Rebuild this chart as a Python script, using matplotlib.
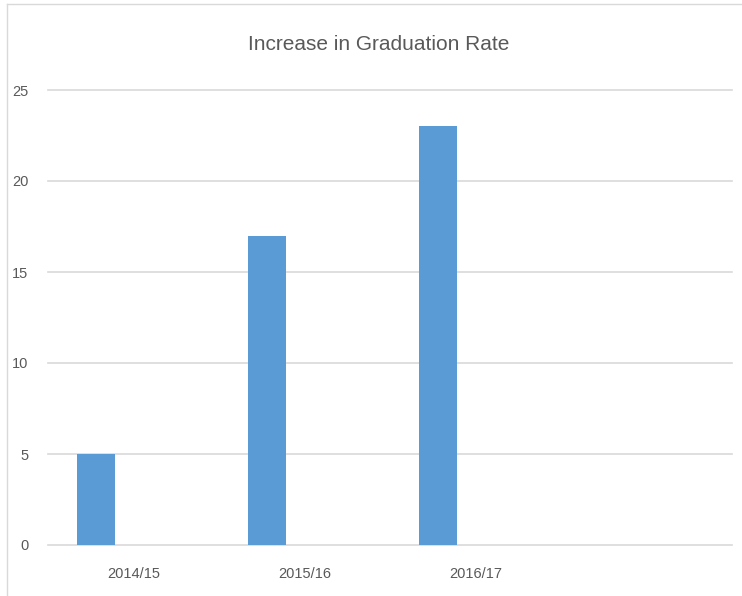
import numpy as np
import matplotlib.pyplot as plt
from matplotlib.lines import Line2D

categories = ["2014/15", "2015/16", "2016/17"]
values = [5, 17, 23]
yticks = [0, 5, 10, 15, 20, 25]

plt.rcParams['font.family'] = ['Liberation Sans', 'DejaVu Sans']

W, H = 742, 596
fig = plt.figure(figsize=(W / 100, H / 100), dpi=100)
ax = fig.add_axes([48 / W, 1 - 545 / H, (732 - 48) / W, (545 - 90) / H])

x = np.arange(len(categories))
ax.bar(x - 0.22, values, width=0.22, color="#5b9bd5", zorder=3)

ax.set_xlim(-0.5, 3.5)
ax.set_ylim(0, 25)
ax.set_yticks(yticks)
ax.set_xticks(x)
ax.set_xticklabels(categories)
ax.grid(axis="y", color="#d9d9d9", linewidth=1.2, zorder=0)
for gl in ax.get_ygridlines():
    gl.set_clip_on(False)
for s in ax.spines.values():
    s.set_visible(False)
ax.tick_params(axis="both", length=0, colors="#595959", labelsize=10.5)
ax.tick_params(axis="x", pad=16)
ax.tick_params(axis="y", pad=14)

fig.text((245 + 513) / 2 / W, 1 - 44 / H, "Increase in Graduation Rate",
         ha="center", va="center", fontsize=15, color="#595959")

# frame lines at left and top edges
fig.add_artist(Line2D([7.5 / W, 7.5 / W], [0, 1 - 3.5 / H], transform=fig.transFigure,
                      color="#d9d9d9", linewidth=1))
fig.add_artist(Line2D([7.5 / W, 1], [1 - 3.5 / H, 1 - 3.5 / H], transform=fig.transFigure,
                      color="#d9d9d9", linewidth=1))

fig.savefig("out.png", dpi=100)
